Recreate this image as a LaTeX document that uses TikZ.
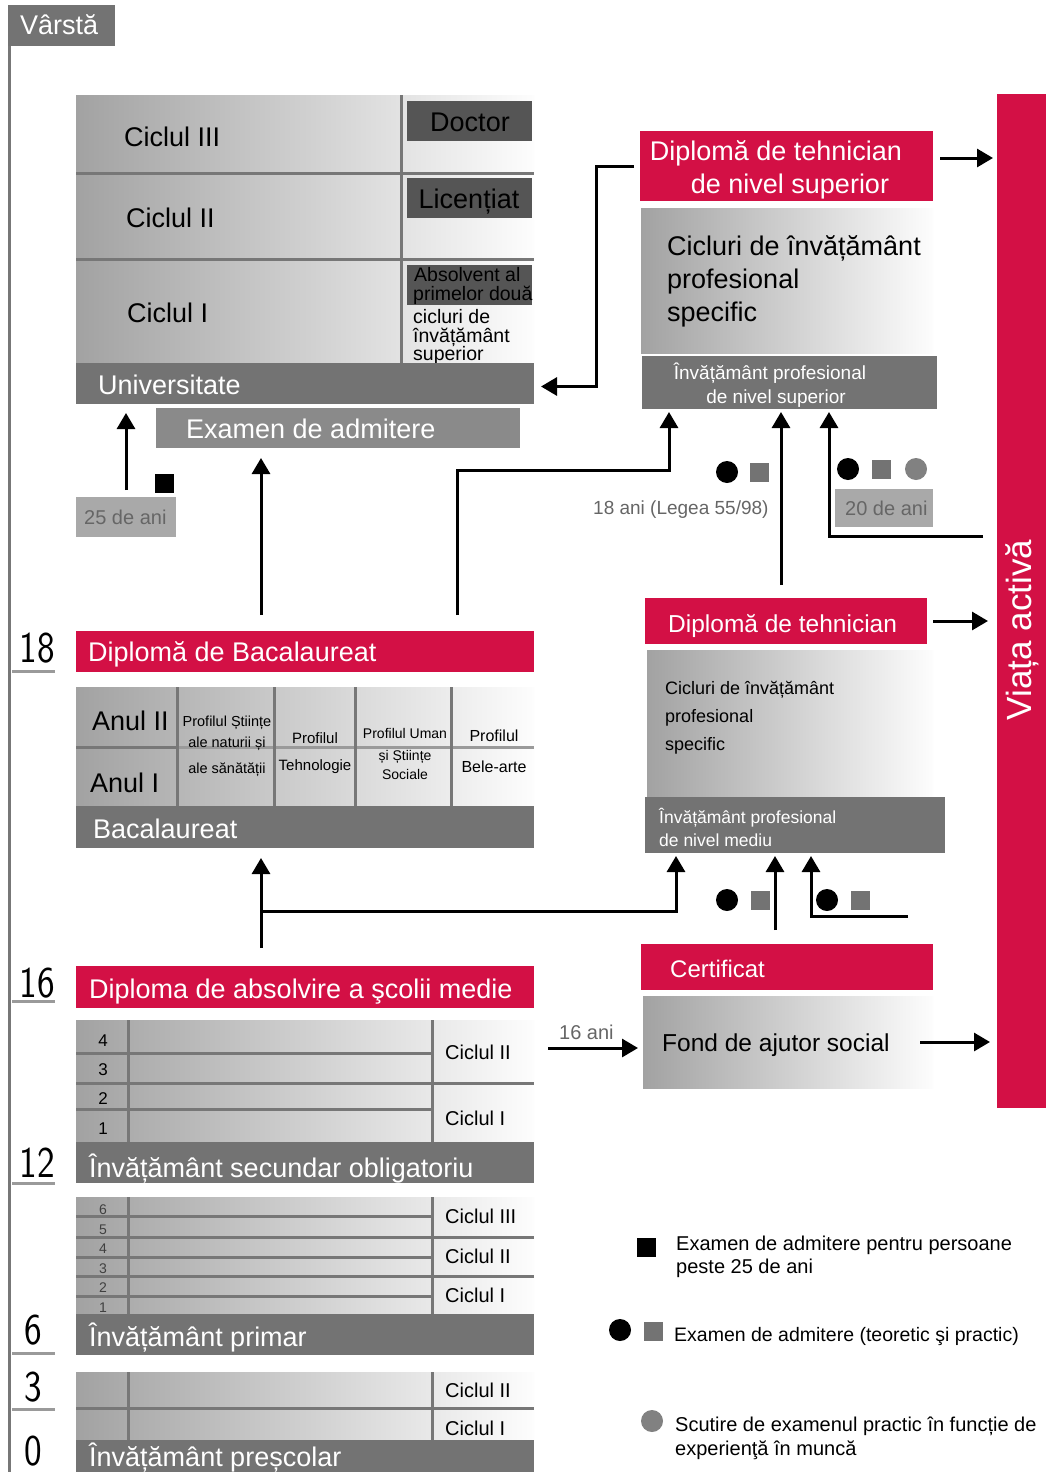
\documentclass[tikz,border=0pt]{standalone}
\usepackage{fontspec}
\setmainfont{Liberation Sans}
\usetikzlibrary{arrows.meta}
\definecolor{crim}{HTML}{D31045}
\definecolor{darkg}{HTML}{737373}
\definecolor{midg}{HTML}{8A8A8A}
\definecolor{lightg}{HTML}{A9A9A9}
\definecolor{gradl}{HTML}{A2A2A2}
\definecolor{gradr}{HTML}{FDFDFD}
\definecolor{sepg}{HTML}{777777}
\definecolor{tickg}{HTML}{9A9A9A}
\definecolor{txtg}{HTML}{666666}
\definecolor{dbox}{HTML}{555555}
\newcommand\fsz[1]{\fontsize{#1}{#1}\selectfont}
\tikzset{
 blk/.style={anchor=north west, inner sep=0pt, outer sep=0pt, draw=none},
 bar/.style={blk, fill=darkg},
 redbar/.style={blk, fill=crim},
 grad/.style={blk, left color=gradl, right color=gradr},
 tw/.style={anchor=base west, inner sep=0pt, text=white},
 tb/.style={anchor=base west, inner sep=0pt, text=black},
 tc/.style={anchor=base, inner sep=0pt, text=black},
 tg/.style={anchor=base west, inner sep=0pt, text=txtg},
 sep/.style={line width=3pt, draw=sepg},
 tick/.style={line width=3pt, draw=tickg},
 conn/.style={line width=3pt, draw=black},
 arr/.style={conn, -{Triangle[length=16pt,width=18pt]}},
 dot/.style={circle, fill=black, inner sep=0pt, minimum size=22pt},
 gdot/.style={circle, fill=darkg!90, inner sep=0pt, minimum size=22pt},
 sq/.style={rectangle, fill=darkg, inner sep=0pt, minimum size=19pt},
 bsq/.style={rectangle, fill=black, inner sep=0pt, minimum size=19pt},
 age/.style={anchor=center, inner sep=0pt, font=\sffamily\fsz{44}, xscale=0.85},
}
\newcommand\R[6]{\node[#6, minimum width=#4pt, minimum height=#5pt] (#1) at (#2,#3) {};}
\begin{document}
\begin{tikzpicture}[x=1pt,y=-1pt]
\useasboundingbox[fill=white] (0,0) rectangle (1046,1472);

% ---------- age axis ----------
\R{vbox}{8}{5}{107}{41}{bar}
\node[tw, font=\fsz{27}] (vtxt) at (20,35) {Vârstă};
\draw[sep] (9.5,46) -- (9.5,1472);
\draw[tick] (12,671) -- (55,671);
\draw[tick] (12,1001) -- (55,1001);
\draw[tick] (12,1183) -- (55,1183);
\draw[tick] (12,1353) -- (55,1353);
\draw[tick] (12,1409) -- (55,1409);
\node[age] (a18) at (37,648) {18};
\node[age] (a16) at (37,983) {16};
\node[age] (a12) at (37,1163) {12};
\node[age] (a6) at (33,1330) {6};
\node[age] (a3) at (33,1387) {3};
\node[age] (a0) at (33,1451) {0};

% ---------- university ----------
\R{ublk}{76}{95}{458}{268}{grad}
\draw[sep] (76,173) -- (534,173);
\draw[sep] (76,259) -- (534,259);
\draw[sep] (401,95) -- (401,363);
\node[tb, font=\fsz{27}] (uc3) at (124,146) {Ciclul III};
\node[tb, font=\fsz{27}] (uc2) at (126,227) {Ciclul II};
\node[tb, font=\fsz{27}] (uc1) at (127,322) {Ciclul I};
\R{doc}{407}{101}{125}{40}{blk, fill=dbox}
\node[tc, font=\fsz{27}] (doct) at (470,131) {Doctor};
\R{lic}{407}{178}{125}{40}{blk, fill=dbox}
\node[tc, font=\fsz{27}] (lict) at (469,208) {Licențiat};
\R{abs}{407}{265}{125}{40}{blk, fill=dbox}
\node[tb, font=\fsz{19.5}] (abs1) at (414,281) {Absolvent al};
\node[tb, font=\fsz{19.5}] (abs2) at (413,300) {primelor două};
\node[tb, font=\fsz{19.5}] (abs3) at (413,323) {cicluri de};
\node[tb, font=\fsz{19.5}] (abs4) at (413,342) {învățământ};
\node[tb, font=\fsz{19.5}] (abs5) at (413,360) {superior};
\R{univ}{76}{363}{458}{41}{bar}
\node[tw, font=\fsz{27}] (univt) at (98,394) {Universitate};
\R{exam}{156}{408}{364}{40}{blk, fill=midg}
\node[tw, font=\fsz{27}] (examt) at (186,438) {Examen de admitere};
\R{ani25}{76}{497}{100}{40}{blk, fill=lightg}
\node[tg, font=\fsz{20}] (ani25t) at (84,524) {25 de ani};
\node[bsq] (sq25) at (164,483) {};

% ---------- technician superior ----------
\R{dtsup}{640}{131}{293}{70}{redbar}
\node[anchor=base, inner sep=0pt, text=white, font=\fsz{27}] (dts1) at (776,160) {Diplomă de tehnician};
\node[anchor=base, inner sep=0pt, text=white, font=\fsz{27}] (dts2) at (790,193) {de nivel superior};
\R{csup}{641}{208}{292}{145}{grad}
\node[tb, font=\fsz{27}] (cs1) at (667,255) {Cicluri de învățământ};
\node[tb, font=\fsz{27}] (cs2) at (667,288) {profesional};
\node[tb, font=\fsz{27}] (cs3) at (667,321) {specific};
\R{nsup}{642}{356}{295}{53}{bar}
\node[anchor=base, inner sep=0pt, text=white, font=\fsz{19}] (ns1) at (770,379) {Învățământ profesional};
\node[anchor=base, inner sep=0pt, text=white, font=\fsz{19}] (ns2) at (776,403) {de nivel superior};
\node[tg, font=\fsz{19}] (l18) at (593,514) {18 ani (Legea 55/98)};
\R{ani20}{835}{489}{98}{38}{blk, fill=lightg}
\node[tg, font=\fsz{20}] (ani20t) at (845,515) {20 de ani};
\node[dot] (d1) at (727,472) {};
\node[sq] (s1) at (759,472) {};
\node[dot] (d2) at (848,469) {};
\node[sq] (s2) at (881,469) {};
\node[gdot] (g2) at (916,469) {};

% ---------- viata activa ----------
\R{viata}{997}{94}{49}{1014}{redbar}
\node[rotate=90, inner sep=0pt, text=white, font=\fsz{35}] (viatat) at (1022,630) {Viața activă};

% ---------- technician ----------
\R{dtm}{645}{598}{282}{46}{redbar}
\node[tw, font=\fsz{24.5}] (dtmt) at (668,632) {Diplomă de tehnician};
\R{cmed}{647}{650}{286}{147}{grad}
\node[tb, font=\fsz{18}] (cm1) at (665,694) {Cicluri de învățământ};
\node[tb, font=\fsz{18}] (cm2) at (665,722) {profesional};
\node[tb, font=\fsz{18}] (cm3) at (665,750) {specific};
\R{nmed}{645}{797}{300}{56}{bar}
\node[tw, font=\fsz{17.5}] (nm1) at (659,823) {Învățământ profesional};
\node[tw, font=\fsz{17.5}] (nm2) at (659,846) {de nivel mediu};
\node[dot] (d3) at (727,900) {};
\node[sq] (s3) at (760,900) {};
\node[dot] (d4) at (827,900) {};
\node[sq] (s4) at (860,900) {};

% ---------- bacalaureat ----------
\R{dbac}{76}{631}{458}{41}{redbar}
\node[tw, font=\fsz{27}] (dbact) at (88,661) {Diplomă de Bacalaureat};
\R{bblk}{76}{687}{458}{119}{grad}
\draw[line width=3pt, draw=tickg] (177,747) -- (534,747);
\draw[sep] (76,747) -- (177,747);
\draw[sep] (177,687) -- (177,806);
\draw[sep] (274,687) -- (274,806);
\draw[sep] (355,687) -- (355,806);
\draw[sep] (451,687) -- (451,806);
\node[tb, font=\fsz{27}] (an2) at (92,730) {Anul II};
\node[tb, font=\fsz{27}] (an1) at (90,792) {Anul I};
\node[tc, font=\fsz{14.5}] (p11) at (227,726) {Profilul Științe};
\node[tc, font=\fsz{14.5}] (p12) at (227,747) {ale naturii și};
\node[tc, font=\fsz{14.5}] (p13) at (227,773) {ale sănătății};
\node[tc, font=\fsz{15}] (p21) at (315,743) {Profilul};
\node[tc, font=\fsz{15}] (p22) at (315,770) {Tehnologie};
\node[tc, font=\fsz{14}] (p31) at (405,738) {Profilul Uman};
\node[tc, font=\fsz{14}] (p32) at (405,760) {și Științe};
\node[tc, font=\fsz{14}] (p33) at (405,779) {Sociale};
\node[tc, font=\fsz{16}] (p41) at (494,741) {Profilul};
\node[tc, font=\fsz{16}] (p42) at (494,772) {Bele-arte};
\R{bac}{76}{806}{458}{42}{bar}
\node[tw, font=\fsz{27}] (bact) at (93,838) {Bacalaureat};

% ---------- certificat ----------
\R{cert}{641}{944}{292}{46}{redbar}
\node[tw, font=\fsz{24}] (certt) at (670,977) {Certificat};
\R{fond}{643}{996}{290}{92}{grad}
\node[tb, font=\fsz{24.5}] (fondt) at (662,1051) {Fond de ajutor social};
\node[tg, font=\fsz{20}] (ani16) at (559,1039) {16 ani};

% ---------- secundar ----------
\R{dsec}{76}{966}{458}{42}{redbar}
\node[tw, font=\fsz{27}] (dsect) at (89,998) {Diploma de absolvire a şcolii medie};
\R{sblk}{76}{1020}{458}{122}{grad}
\draw[sep] (76,1053) -- (432,1053);
\draw[sep] (76,1083) -- (534,1083);
\draw[sep] (76,1109) -- (432,1109);
\draw[sep] (128,1020) -- (128,1142);
\draw[sep] (432,1020) -- (432,1142);
\node[tc, font=\fsz{17}] (n4) at (103,1046) {4};
\node[tc, font=\fsz{17}] (n3) at (103,1075) {3};
\node[tc, font=\fsz{17}] (n2) at (103,1104) {2};
\node[tc, font=\fsz{17}] (n1) at (103,1134) {1};
\node[tb, font=\fsz{20}] (sc2) at (445,1059) {Ciclul II};
\node[tb, font=\fsz{20}] (sc1) at (445,1125) {Ciclul I};
\R{ssec}{76}{1142}{458}{41}{bar}
\node[tw, font=\fsz{27}] (ssect) at (89,1177) {Învățământ secundar obligatoriu};

% ---------- primar ----------
\R{pblk}{76}{1197}{458}{117}{grad}
\draw[sep] (76,1216) -- (432,1216);
\draw[sep] (76,1237) -- (534,1237);
\draw[sep] (76,1257) -- (432,1257);
\draw[sep] (76,1276) -- (534,1276);
\draw[sep] (76,1296) -- (432,1296);
\draw[sep] (128,1197) -- (128,1314);
\draw[sep] (432,1197) -- (432,1314);
\node[tc, font=\fsz{14}, text=black!75] (m6) at (103,1214) {6};
\node[tc, font=\fsz{14}, text=black!75] (m5) at (103,1234) {5};
\node[tc, font=\fsz{14}, text=black!75] (m4) at (103,1253) {4};
\node[tc, font=\fsz{14}, text=black!75] (m3) at (103,1273) {3};
\node[tc, font=\fsz{14}, text=black!75] (m2) at (103,1292) {2};
\node[tc, font=\fsz{14}, text=black!75] (m1) at (103,1312) {1};
\node[tb, font=\fsz{20}] (pc3) at (445,1223) {Ciclul III};
\node[tb, font=\fsz{20}] (pc2) at (445,1263) {Ciclul II};
\node[tb, font=\fsz{20}] (pc1) at (445,1302) {Ciclul I};
\R{prim}{76}{1314}{458}{41}{bar}
\node[tw, font=\fsz{27}] (primt) at (89,1346) {Învățământ primar};

% ---------- prescolar ----------
\R{pre}{76}{1372}{458}{68}{grad}
\draw[sep] (76,1408) -- (534,1408);
\draw[sep] (128,1372) -- (128,1440);
\draw[sep] (432,1372) -- (432,1440);
\node[tb, font=\fsz{20}] (rc2) at (445,1397) {Ciclul II};
\node[tb, font=\fsz{20}] (rc1) at (445,1435) {Ciclul I};
\R{presc}{76}{1440}{458}{32}{bar}
\node[tw, font=\fsz{27}] (presct) at (89,1466) {Învățământ preșcolar};

% ---------- legend ----------
\node[bsq] (lsq) at (646,1247) {};
\node[tb, font=\fsz{20}] (lg1) at (676,1250) {Examen de admitere pentru persoane};
\node[tb, font=\fsz{20}] (lg2) at (676,1273) {peste 25 de ani};
\node[dot] (ld) at (620,1330) {};
\node[sq] (ls) at (653,1331) {};
\node[tb, font=\fsz{19.5}] (lg3) at (674,1341) {Examen de admitere (teoretic şi practic)};
\node[gdot] (lg) at (652,1421) {};
\node[tb, font=\fsz{20}] (lg4) at (675,1431) {Scutire de examenul practic în funcție de};
\node[tb, font=\fsz{20}] (lg5) at (675,1455) {experienţă în muncă};

% ---------- connectors ----------
\coordinate (xa) at (261,0);
\coordinate (xb) at (457,0);
\coordinate (xc) at (669,0);
\coordinate (yb) at (0,470);
\coordinate (xd) at (596,0);
\coordinate (xe) at (781,0);
\coordinate (xf) at (829,0);
\coordinate (yf) at (0,536);
\coordinate (xg) at (676,0);
\coordinate (yg) at (0,911);
\coordinate (xh) at (775,0);
\coordinate (xi) at (811,0);
\coordinate (yi) at (0,916);
\coordinate (xj) at (908,0);

\draw[arr] ([yshift=7pt]ani25.north) -- ([yshift=-9pt]ani25.north |- univ.south);
\draw[arr] ([yshift=16pt]dbac.north -| xa) -- ([yshift=-10pt]exam.south -| xa);
\draw[arr] ([yshift=16pt]dbac.north -| xb) -- (xb |- yb) -- (xc |- yb) -- ([yshift=-3pt]nsup.south -| xc);
\draw[arr] ([xshift=-6pt]dtsup.west) -- (xd |- dtsup.west) -- ([yshift=-3pt]xd |- univ.east) -- ([xshift=7pt,yshift=-3pt]univ.east);
\draw[arr] ([xshift=7pt,yshift=8pt]dtsup.east) -- ([xshift=-4pt,yshift=8pt]dtsup.east -| viata.west);
\draw[arr] ([yshift=13pt]dtm.north -| xe) -- ([yshift=-3pt]nsup.south -| xe);
\draw[arr] ([xshift=-14pt]viata.west |- yf) -- (xf |- yf) -- ([yshift=-3pt]nsup.south -| xf);
\draw[arr] ([xshift=6pt]dtm.east) -- ([xshift=-9pt]dtm.east -| viata.west);
\draw[arr] ([yshift=18pt]dsec.north -| xa) -- ([yshift=-10pt]bac.south -| xa);
\draw[arr] (xa |- yg) -- (xg |- yg) -- ([yshift=-3pt]nmed.south -| xg);
\draw[arr] ([yshift=14pt]cert.north -| xh) -- ([yshift=-3pt]nmed.south -| xh);
\draw[arr] (xj |- yi) -- (xi |- yi) -- ([yshift=-3pt]nmed.south -| xi);
\draw[arr] ([xshift=-95pt,yshift=-6pt]fond.west) -- ([xshift=-5pt,yshift=-6pt]fond.west);
\draw[arr] ([xshift=-13pt]fond.east) -- ([xshift=-7pt]fond.east -| viata.west);
\end{tikzpicture}
\end{document}
